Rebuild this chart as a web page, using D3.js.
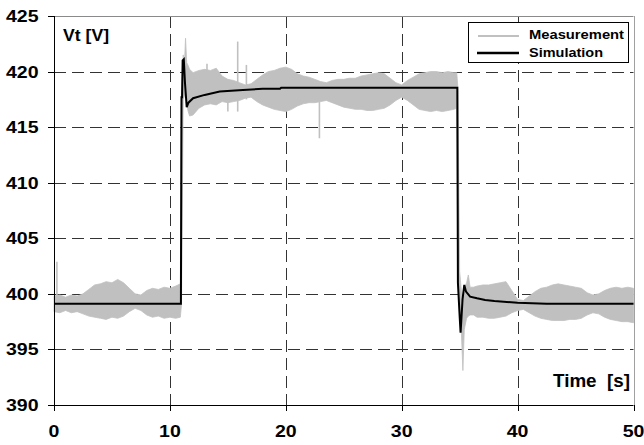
<!DOCTYPE html>
<html>
<head>
<meta charset="utf-8">
<script src="https://cdn.jsdelivr.net/npm/d3@7"></script>
<style>
  html, body { margin: 0; padding: 0; background: #ffffff; }
  svg { display: block; }
  text { font-family: Arial, "Liberation Sans", sans-serif; }
</style>
</head>
<body>
<svg id="chart" width="644" height="445"></svg>
<script>
// ---------------- DATA ----------------
const xTicks = [0, 10, 20, 30, 40, 50];
const yTicks = [390, 395, 400, 405, 410, 415, 420, 425];
const xTitle = "Time  [s]";
const yTitle = "Vt [V]";
const seriesNames = ["Measurement", "Simulation"];

// Simulation (black line)
const simT = [0, 10.95, 11.0, 11.05, 11.1, 11.2, 11.3, 11.45, 11.6, 12.0, 13.0, 14.3, 16.3, 18.0, 19.5, 19.6, 25.0, 30.0,
  34.8, 34.85, 35.0, 35.08, 35.25, 35.4, 35.55, 35.9, 36.5, 37.2, 38.0, 40.0, 42.5, 50];
const simV = [399.1, 399.1, 417.7, 417.7, 421.0, 421.1, 419.0, 416.8, 417.2, 417.6, 417.9, 418.2, 418.35, 418.45, 418.45, 418.55, 418.55, 418.55,
  418.55, 401.0, 398.0, 396.5, 399.5, 400.8, 400.2, 399.75, 399.6, 399.45, 399.35, 399.2, 399.1, 399.1];

// Measurement (grey noisy band) : lower / upper envelope
const measT = [0, 0.5, 1, 1.5, 2, 2.5, 3, 3.5, 4, 4.5, 5, 5.5, 6, 6.5, 7, 7.5, 8, 8.5, 9, 9.5, 10, 10.5, 10.9,
  11.0, 11.15, 11.25, 11.35, 11.45, 11.55, 11.7, 12, 12.5, 13, 13.5, 14, 14.5, 15, 15.5, 16, 16.5, 17, 17.5, 18, 18.5, 19, 19.5,
  20, 20.5, 21, 21.5, 22, 22.5, 23, 23.5, 24, 24.5, 25, 25.5, 26, 26.5, 27, 27.5, 28, 28.5, 29, 29.5,
  30, 30.5, 31, 31.5, 32, 32.5, 33, 33.5, 34, 34.5, 34.75,
  34.85, 35.0, 35.15, 35.28, 35.4, 35.6, 35.75, 35.9,
  36.2, 36.5, 37, 37.5, 38, 38.5, 39, 39.5, 40, 40.5, 41, 41.5, 42, 42.5, 43, 43.5, 44, 44.5, 45, 45.5,
  46, 46.5, 47, 47.5, 48, 48.5, 49, 49.5, 50];
const measHi = [399.8, 399.9, 399.7, 399.9, 399.8, 400.0, 400.4, 400.8, 400.9, 401.1, 401.0, 401.3, 401.0, 400.5, 400.0, 399.9, 400.3, 400.5, 400.4, 400.6, 400.5, 400.7, 400.9,
  418.0, 421.5, 420.6, 423.0, 420.8, 420.6, 420.2, 419.9, 420.1, 420.2, 420.1, 420.3, 419.6, 419.3, 419.2, 419.0, 418.8, 418.9, 419.3, 419.7, 420.0, 420.1, 420.3,
  420.4, 420.2, 419.8, 419.6, 419.5, 419.3, 419.1, 419.0, 419.2, 419.3, 419.3, 419.4, 419.4, 419.6, 419.7, 419.8, 419.9, 419.8, 419.4, 419.0,
  418.8, 419.2, 419.5, 419.8, 419.9, 420.0, 420.0, 419.9, 420.0, 419.9, 419.9,
  418.5, 402.0, 400.3, 399.5, 400.5, 401.0, 401.7, 400.6,
  400.6, 400.7, 400.8, 400.8, 400.9, 401.0, 401.1, 400.3, 399.5, 399.4, 399.8, 400.2, 400.5, 400.6, 400.8, 400.9, 400.8, 400.7, 400.6, 400.5,
  400.1, 399.9, 400.0, 400.3, 400.5, 400.6, 400.5, 400.6, 400.5];
const measLo = [398.4, 398.3, 398.5, 398.3, 398.4, 398.2, 398.0, 397.9, 397.8, 397.7, 397.9, 397.8, 398.0, 398.4, 398.7, 398.5, 398.1, 397.9, 398.0, 397.8, 397.9, 397.8, 397.9,
  399.0, 417.5, 417.8, 418.0, 417.5, 416.5, 416.0, 416.1, 416.7, 417.0, 417.1, 417.0, 417.3, 417.2, 417.3, 417.4, 417.6, 417.7, 417.3, 417.0, 416.8, 416.6, 416.5,
  416.4, 416.6, 416.9, 417.1, 417.2, 417.2, 417.3, 417.4, 417.2, 417.0, 416.8, 416.7, 416.6, 416.6, 416.5, 416.5, 416.6, 416.7, 417.0, 417.4,
  417.7, 417.4, 417.0, 416.6, 416.5, 416.4, 416.5, 416.4, 416.5, 416.6, 416.7,
  402.0, 398.0, 396.5, 393.1, 396.8, 397.8, 398.0, 398.1,
  398.1, 397.9, 397.9, 397.8, 397.8, 397.9, 398.0, 398.3, 398.5, 398.6, 398.3, 398.0, 397.8, 397.7, 397.6, 397.6, 397.6, 397.7, 397.7, 397.8,
  398.1, 398.3, 398.2, 397.9, 397.7, 397.6, 397.5, 397.5, 397.4];

// Isolated measurement spikes
const spikeT  = [0.25, 13.2, 15.0, 15.85, 16.6, 22.9];
const spikeLo = [398.5, 417.5, 416.4, 416.4, 417.5, 414.0];
const spikeHi = [402.9, 420.7, 419.0, 422.7, 420.6, 419.0];

// ---------------- CHART ----------------
const svg = d3.select("#chart");
const x = d3.scaleLinear().domain([0, 50]).range([54, 633.5]);
const y = d3.scaleLinear().domain([390, 425]).range([405, 16]);

const grid = svg.append("g");
// horizontal gridlines
grid.selectAll("line.h").data(yTicks.filter(d => d > 390 && d < 425)).join("line")
  .attr("x1", x(0)).attr("x2", x(50))
  .attr("y1", d => Math.round(y(d)) + 0.5).attr("y2", d => Math.round(y(d)) + 0.5)
  .attr("stroke", "#333").attr("stroke-width", 1).attr("stroke-dasharray", "12,6");
// vertical gridlines
grid.selectAll("line.v").data(xTicks.filter(d => d > 0 && d < 50)).join("line")
  .attr("x1", d => Math.round(x(d)) + 0.5).attr("x2", d => Math.round(x(d)) + 0.5)
  .attr("y1", y(425)).attr("y2", y(390))
  .attr("stroke", "#333").attr("stroke-width", 1).attr("stroke-dasharray", "12,6");

// frame top & right
svg.append("line").attr("x1", x(0)).attr("x2", x(50)).attr("y1", Math.round(y(425)) + 0.5).attr("y2", Math.round(y(425)) + 0.5)
  .attr("stroke", "#8a8a8a").attr("stroke-width", 1);
svg.append("line").attr("x1", Math.round(x(50)) + 0.5).attr("x2", Math.round(x(50)) + 0.5).attr("y1", y(425)).attr("y2", y(390))
  .attr("stroke", "#a0a0a0").attr("stroke-width", 1);

// measurement band
const measData = measT.map((t, i) => ({ t: t, lo: measLo[i], hi: measHi[i] }));
svg.append("path").datum(measData)
  .attr("d", d3.area().x(d => x(d.t)).y0(d => y(d.lo)).y1(d => y(d.hi)))
  .attr("fill", "#c0c0c0").attr("stroke", "#c0c0c0").attr("stroke-width", 0.8);
svg.selectAll("line.spike").data(spikeT.map((t, i) => ({ t: t, lo: spikeLo[i], hi: spikeHi[i] }))).join("line")
  .attr("x1", d => x(d.t)).attr("x2", d => x(d.t))
  .attr("y1", d => y(d.lo)).attr("y2", d => y(d.hi))
  .attr("stroke", "#c0c0c0").attr("stroke-width", 1.6);

// simulation line
const simData = simT.map((t, i) => ({ t: t, v: simV[i] }));
svg.append("path").datum(simData)
  .attr("d", d3.line().x(d => x(d.t)).y(d => y(d.v)))
  .attr("fill", "none").attr("stroke", "#000").attr("stroke-width", 2).attr("stroke-linejoin", "miter");

// axes lines
svg.append("line").attr("x1", 54.5).attr("x2", 54.5).attr("y1", y(425)).attr("y2", y(390) + 0.5)
  .attr("stroke", "#000").attr("stroke-width", 1);
svg.append("line").attr("x1", x(0)).attr("x2", x(50)).attr("y1", Math.round(y(390)) + 0.5).attr("y2", Math.round(y(390)) + 0.5)
  .attr("stroke", "#000").attr("stroke-width", 1);
// y ticks
svg.selectAll("line.yt").data(yTicks).join("line")
  .attr("x1", 48).attr("x2", 54.5)
  .attr("y1", d => Math.round(y(d)) + 0.5).attr("y2", d => Math.round(y(d)) + 0.5)
  .attr("stroke", "#000");
// x ticks
svg.selectAll("line.xt").data(xTicks).join("line")
  .attr("x1", d => Math.round(x(d)) + 0.5).attr("x2", d => Math.round(x(d)) + 0.5)
  .attr("y1", Math.round(y(390))).attr("y2", Math.round(y(390)) + 6)
  .attr("stroke", "#000");

// tick labels
svg.selectAll("text.yl").data(yTicks).join("text")
  .attr("transform", d => `translate(38.5,${y(d) + 6}) scale(1.15,1)`)
  .attr("text-anchor", "end").attr("font-size", 17).attr("font-weight", "bold").attr("fill", "#000")
  .text(d => d);
svg.selectAll("text.xl").data(xTicks).join("text")
  .attr("transform", d => `translate(${x(d)},437) scale(1.15,1)`)
  .attr("text-anchor", "middle").attr("font-size", 17).attr("font-weight", "bold").attr("fill", "#000")
  .text(d => d);

// axis titles
svg.append("text").attr("x", 63).attr("y", 40.5)
  .attr("font-size", 17).attr("font-weight", "bold").attr("textLength", 46).attr("lengthAdjust", "spacingAndGlyphs")
  .text(yTitle);
svg.append("text").attr("x", 553).attr("y", 387).style("white-space", "pre")
  .attr("font-size", 18).attr("font-weight", "bold").attr("textLength", 77).attr("lengthAdjust", "spacingAndGlyphs")
  .text(xTitle);

// legend
const lg = svg.append("g");
lg.append("rect").attr("x", 468.5).attr("y", 22.5).attr("width", 160).attr("height", 40)
  .attr("fill", "#fff").attr("stroke", "#000").attr("stroke-width", 1);
lg.append("line").attr("x1", 478).attr("x2", 519).attr("y1", 36).attr("y2", 36)
  .attr("stroke", "#c0c0c0").attr("stroke-width", 2);
lg.append("line").attr("x1", 477).attr("x2", 519).attr("y1", 53).attr("y2", 53)
  .attr("stroke", "#000").attr("stroke-width", 2.5);
lg.append("text").attr("x", 529).attr("y", 38.5).attr("font-size", 13).attr("font-weight", "bold")
  .attr("textLength", 95).attr("lengthAdjust", "spacingAndGlyphs").text(seriesNames[0]);
lg.append("text").attr("x", 529).attr("y", 56.5).attr("font-size", 13).attr("font-weight", "bold")
  .attr("textLength", 74).attr("lengthAdjust", "spacingAndGlyphs").text(seriesNames[1]);
</script>
</body>
</html>
